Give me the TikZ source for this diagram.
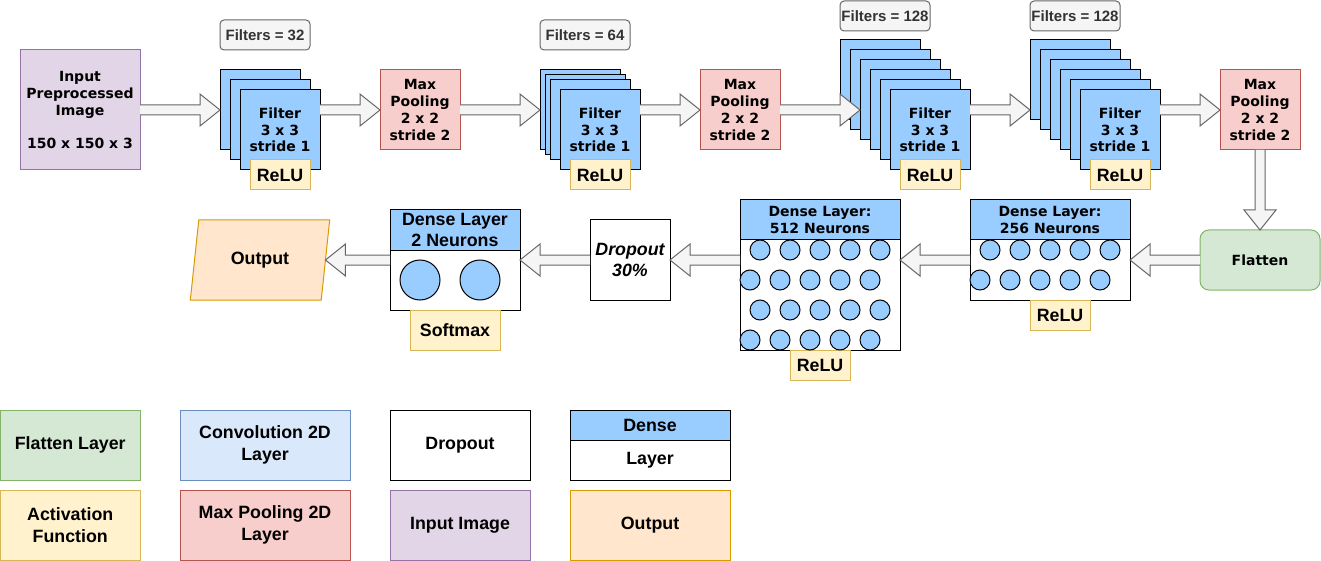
\documentclass[tikz,border=0pt]{standalone}
\usepackage{fontspec}
\setmainfont{Liberation Sans}
\newfontfamily\dvfont{DejaVu Sans}
\usetikzlibrary{shapes.geometric,calc}
\definecolor{purF}{HTML}{E1D5E7}\definecolor{purD}{HTML}{9673A6}
\definecolor{blu}{HTML}{99CCFF}
\definecolor{lbluF}{HTML}{DAE8FC}\definecolor{lbluD}{HTML}{6C8EBF}
\definecolor{pinkF}{HTML}{F8CECC}\definecolor{pinkD}{HTML}{B85450}
\definecolor{yelF}{HTML}{FFF2CC}\definecolor{yelD}{HTML}{D6B656}
\definecolor{grnF}{HTML}{D5E8D4}\definecolor{grnD}{HTML}{82B366}
\definecolor{orF}{HTML}{FFE6CC}\definecolor{orD}{HTML}{D79B00}
\definecolor{gryF}{HTML}{F5F5F5}\definecolor{gryD}{HTML}{666666}\definecolor{gryT}{HTML}{333333}
\newcommand\vtxt{\dvfont\bfseries\fontsize{14}{16.7}\selectfont}
\newcommand\htxt{\bfseries\fontsize{17.8}{21.5}\selectfont}
\newcommand\ftxt{\bfseries\fontsize{15}{17}\selectfont}
\tikzset{
  base/.style={rectangle, draw, line width=1pt, inner sep=0pt, outer sep=0pt, anchor=north west, align=center},
  inbox/.style={base, fill=purF, draw=purD, minimum width=120pt, minimum height=120pt, font=\vtxt},
  filt/.style={base, fill=gryF, draw=gryD, text=gryT, rounded corners=4pt, minimum width=90pt, minimum height=30pt, font=\ftxt},
  conv/.style={base, fill=blu, draw=black, minimum width=80pt, minimum height=80pt, font=\vtxt},
  relu/.style={base, fill=yelF, draw=yelD, minimum width=60pt, minimum height=30pt, font=\htxt},
  pool/.style={base, fill=pinkF, draw=pinkD, minimum width=80pt, minimum height=80pt, font=\vtxt},
  flat/.style={base, fill=grnF, draw=grnD, rounded corners=9pt, minimum width=120pt, minimum height=60pt, font=\vtxt},
  dhead/.style={base, fill=blu, draw=black, minimum height=40pt},
  dbody/.style={base, fill=white, draw=black},
  drop/.style={base, fill=white, draw=black, minimum width=80pt, minimum height=80pt, font=\htxt\itshape},
  outp/.style={trapezium, trapezium left angle=76, trapezium right angle=104, trapezium stretches=true,
     minimum width=140pt, minimum height=80pt, fill=orF, draw=orD, line width=1pt, inner sep=0pt, outer sep=0pt, font=\htxt},
  neuron/.style={fill=blu, draw=black, line width=1pt},
  leg/.style={base, minimum width=#1, minimum height=70pt, font=\htxt},
  flexarr/.style={fill=gryF, draw=gryD, line width=1pt, line join=miter},
}
\newcommand\flexR[3]{\filldraw[flexarr] let \p1=(#1), \p2=(#2), \p3=(#3) in
  (\x1,\y3+5pt) -- (\x2-20pt,\y3+5pt) -- (\x2-20pt,\y3+16pt) -- (\x2,\y3) -- (\x2-20pt,\y3-16pt) -- (\x2-20pt,\y3-5pt) -- (\x1,\y3-5pt);}
\newcommand\flexL[3]{\filldraw[flexarr] let \p1=(#1), \p2=(#2), \p3=(#3) in
  (\x1,\y3+5pt) -- (\x2+20pt,\y3+5pt) -- (\x2+20pt,\y3+16pt) -- (\x2,\y3) -- (\x2+20pt,\y3-16pt) -- (\x2+20pt,\y3-5pt) -- (\x1,\y3-5pt);}
\newcommand\flexD[3]{\filldraw[flexarr] let \p1=(#1), \p2=(#2), \p3=(#3) in
  (\x3-5pt,\y1) -- (\x3-5pt,\y2+20pt) -- (\x3-16pt,\y2+20pt) -- (\x3,\y2) -- (\x3+16pt,\y2+20pt) -- (\x3+5pt,\y2+20pt) -- (\x3+5pt,\y1);}
\begin{document}
\begin{tikzpicture}[x=1pt,y=-1pt]
\useasboundingbox (0,0) rectangle (1321,561);
\coordinate (r1) at (0,110);
\coordinate (r2) at (0,260);
% ---------- top row ----------
\node[inbox] (in) at (20,50) {Input\\Preprocessed\\Image\\\mbox{}\\150 x 150 x 3};
\node[filt] (f32) at (220,20) {Filters = 32};
\node[conv] (c1a) at (220,70) {};
\node[conv] (c1b) at (230,80) {};
\node[conv] (c1c) at (240,90) {Filter\\3 x 3\\stride 1};
\node[relu] (rl1) at (250,160) {ReLU};
\node[pool] (mp1) at (380,70) {Max\\Pooling\\2 x 2\\stride 2};
\node[filt] (f64) at (540,20) {Filters = 64};
\node[conv] (c2a) at (540,70) {};
\node[conv] (c2b) at (545,75) {};
\node[conv] (c2c) at (550,80) {};
\node[conv] (c2d) at (560,90) {Filter\\3 x 3\\stride 1};
\node[relu] (rl2) at (570,160) {ReLU};
\node[pool] (mp2) at (700,70) {Max\\Pooling\\2 x 2\\stride 2};
\node[filt] (f128a) at (840,1) {Filters = 128};
\node[conv] (c3a) at (840,40) {};
\node[conv] (c3b) at (850,50) {};
\node[conv] (c3c) at (860,60) {};
\node[conv] (c3d) at (870,70) {};
\node[conv] (c3e) at (880,80) {};
\node[conv] (c3f) at (890,90) {Filter\\3 x 3\\stride 1};
\node[relu] (rl3) at (900,160) {ReLU};
\node[filt] (f128b) at (1030,1) {Filters = 128};
\node[conv] (c4a) at (1030,40) {};
\node[conv] (c4b) at (1040,50) {};
\node[conv] (c4c) at (1050,60) {};
\node[conv] (c4d) at (1060,70) {};
\node[conv] (c4e) at (1070,80) {};
\node[conv] (c4f) at (1080,90) {Filter\\3 x 3\\stride 1};
\node[relu] (rl4) at (1090,160) {ReLU};
\node[pool] (mp3) at (1220,70) {Max\\Pooling\\2 x 2\\stride 2};
% ---------- second row ----------
\node[flat] (fl) at (1200,230) {Flatten};
\node[dbody, minimum width=160pt, minimum height=60pt] (d256b) at (970,240) {};
\node[dhead, minimum width=160pt, font=\vtxt] (d256h) at (970,200) {Dense Layer:\\256 Neurons};
\node[relu] (rl5) at (1030,300) {ReLU};
\node[dbody, minimum width=160pt, minimum height=110pt] (d512b) at (740,240) {};
\node[dhead, minimum width=160pt, font=\vtxt] (d512h) at (740,200) {Dense Layer:\\512 Neurons};
\node[relu] (rl6) at (790,350) {ReLU};
\node[drop] (dr) at (590,220) {Dropout\\30\%};
\node[dbody, minimum width=130pt, minimum height=60pt] (d2b) at (390,250) {};
\node[dhead, minimum width=130pt, font=\htxt] (d2h) at (390,210) {Dense Layer\\2 Neurons};
\node[relu, minimum width=90pt, minimum height=40pt] (sm) at (410,310) {Softmax};
\node[outp] (out) at (260,260) {Output};
% neurons
\foreach \x in {990,1020,1050,1080,1110} \draw[neuron] (\x,250) circle[radius=10pt];
\foreach \x in {980,1010,1040,1070,1100} \draw[neuron] (\x,280) circle[radius=10pt];
\foreach \y in {250,310} \foreach \x in {760,790,820,850,880} \draw[neuron] (\x,\y) circle[radius=10pt];
\foreach \y in {280,340} \foreach \x in {750,780,810,840,870} \draw[neuron] (\x,\y) circle[radius=10pt];
\foreach \x in {420,480} \draw[neuron] (\x,280) circle[radius=20pt];
% ---------- connectors ----------
\flexR{in.east}{c1a.west}{r1}
\flexR{c1c.east}{mp1.west}{r1}
\flexR{mp1.east}{c2a.west}{r1}
\flexR{c2d.east}{mp2.west}{r1}
\flexR{mp2.east}{c3c.west}{r1}
\flexR{c3f.east}{c4a.west}{r1}
\flexR{c4f.east}{mp3.west}{r1}
\flexD{mp3.south}{fl.north}{mp3.south}
\flexL{fl.west}{d256b.east}{r2}
\flexL{d256b.west}{d512b.east}{r2}
\flexL{d512b.west}{dr.east}{r2}
\flexL{dr.west}{d2b.east}{r2}
\flexL{d2b.west}{out.east}{r2}
% ---------- legend ----------
\node[leg=139.5pt, fill=grnF, draw=grnD] (lg1) at (0.5,410) {Flatten Layer};
\node[leg=170pt, fill=lbluF, draw=lbluD] (lg2) at (180,410) {Convolution 2D\\Layer};
\node[leg=140pt, fill=white, draw=black] (lg3) at (390,410) {Dropout};
\node[base, fill=white, draw=black, minimum width=160pt, minimum height=40pt, font=\htxt] (lg4b) at (570,440) {Layer};
\node[base, fill=blu, draw=black, minimum width=160pt, minimum height=30pt, font=\htxt] (lg4h) at (570,410) {Dense};
\node[leg=139.5pt, fill=yelF, draw=yelD] (lg5) at (0.5,490) {Activation\\Function};
\node[leg=170pt, fill=pinkF, draw=pinkD] (lg6) at (180,490) {Max Pooling 2D\\Layer};
\node[leg=140pt, fill=purF, draw=purD] (lg7) at (390,490) {Input Image};
\node[leg=160pt, fill=orF, draw=orD] (lg8) at (570,490) {Output};
\end{tikzpicture}
\end{document}
